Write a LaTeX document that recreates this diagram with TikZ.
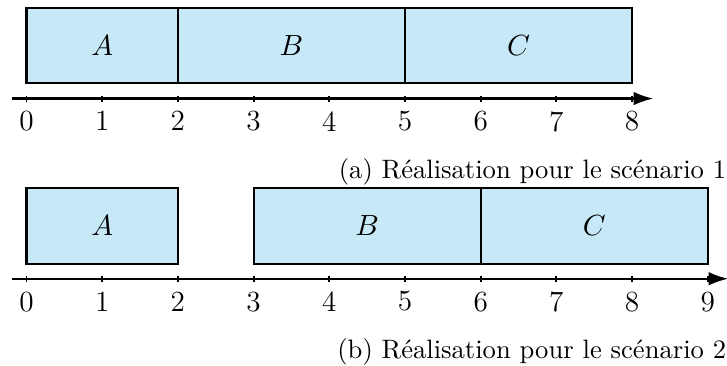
\documentclass[tikz,border=0pt]{standalone}
\usepackage{fontspec}
\usetikzlibrary{arrows.meta}
\definecolor{taskfill}{HTML}{C6E8F7}

\begin{document}
\begin{tikzpicture}[x=1cm,y=1cm,font=\fontsize{11}{13.6}\selectfont,
  task/.style={draw=black,fill=taskfill,line width=.8pt},
  axis/.style={-{Latex[length=2.6mm,width=1.8mm]},line width=.8pt},
  tick/.style={line width=.7pt},
  caption/.style={anchor=base east,inner sep=0pt,font=\fontsize{10}{12}\selectfont}]
\useasboundingbox (-.35,0) rectangle (9.254,4.822);
\fill[white] (-.35,0) rectangle (9.254,4.822);

% SCENARIO 1: A, B AND C ONE AFTER THE OTHER
\draw[task] (0,3.72) rectangle node (a1) {$A$} (2,4.72);
\draw[task] (2,3.72) rectangle node (b1) {$B$} (5,4.72);
\draw[task] (5,3.72) rectangle node (c1) {$C$} (8,4.72);
\draw[axis] (-.19,3.52)--(8.28,3.52);
\foreach \i in {0,...,8}
  \draw[tick] (\i,3.56)--(\i,3.48) node[below] (ta\i) {\i};
\node[caption] (capa) at (9.25,2.47) {(a) Réalisation pour le scénario 1};

% SCENARIO 2: A GAP BETWEEN A AND B
\draw[task] (0,1.34) rectangle node (a2) {$A$} (2,2.34);
\draw[task] (3,1.34) rectangle node (b2) {$B$} (6,2.34);
\draw[task] (6,1.34) rectangle node (c2) {$C$} (9,2.34);
\draw[axis] (-.19,1.14)--(9.27,1.14);
\foreach \i in {0,...,9}
  \draw[tick] (\i,1.18)--(\i,1.10) node[below] (tb\i) {\i};
\node[caption] (capb) at (9.25,.09) {(b) Réalisation pour le scénario 2};
\end{tikzpicture}
\end{document}
